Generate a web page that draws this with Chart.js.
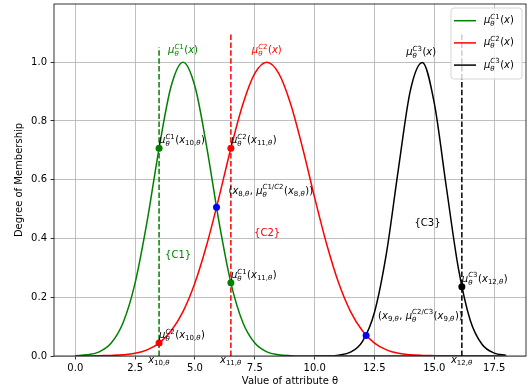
<!DOCTYPE html>
<html>
<head>
<meta charset="utf-8">
<script src="https://cdn.jsdelivr.net/npm/chart.js@4.4.1/dist/chart.umd.min.js"></script>
<style>
  html, body { margin: 0; padding: 0; background: #fff; }
  canvas { display: block; }
</style>
</head>
<body>
<canvas id="chart" width="530" height="391"></canvas>
<script>
// x values of the sampled curves (0 .. 18, step 0.5)
const xGrid = [0, 0.5, 1, 1.5, 2, 2.5, 3, 3.5, 4, 4.5, 5, 5.5, 6, 6.5, 7, 7.5, 8, 8.5, 9, 9.5,
  10, 10.5, 11, 11.5, 12, 12.5, 13, 13.5, 14, 14.5, 15, 15.5, 16, 16.5, 17, 17.5, 18];

// membership curves
const c1Values = [0.001, 0.004, 0.014, 0.044, 0.114, 0.249, 0.458, 0.707, 0.917, 1.000,
  0.917, 0.707, 0.458, 0.249, 0.114, 0.044, 0.014, 0.004, 0.001, 0,
  0, 0, 0, 0, 0, 0, 0, 0, 0, 0, 0, 0, 0, 0, 0, 0, 0];
const c2Values = [0, 0, 0.001, 0.002, 0.004, 0.009, 0.021, 0.044, 0.085, 0.151,
  0.249, 0.381, 0.539, 0.707, 0.857, 0.962, 1.000, 0.962, 0.857, 0.707,
  0.539, 0.381, 0.249, 0.151, 0.085, 0.044, 0.021, 0.009, 0.004, 0.002,
  0.001, 0, 0, 0, 0, 0, 0];
const c3Values = [null, null, null, null, null, null, null, null, null, null,
  null, null, null, null, null, null, null, null, null, null,
  0, 0, 0.003, 0.013, 0.050, 0.149, 0.350, 0.637, 0.904, 0.999,
  0.860, 0.576, 0.301, 0.122, 0.039, 0.010, 0.002];

// cut points x10, x11, x12 and the memberships marked on them
const cutNames = ['x_{10,θ}', 'x_{11,θ}', 'x_{12,θ}'];
const cutX = [3.5, 6.5, 16.15];
const cutTop = [1.05, 1.1, 1.1];
const c1AtCut = [0.707, 0.249];
const c2AtCut = [0.044, 0.707];
const c3AtCut = [0.236];

// crossing points x8 (C1/C2) and x9 (C2/C3)
const crossX = [5.9, 12.15];
const crossY = [0.506, 0.070];

const seriesNames = ['μ_θ^{C1}(x)', 'μ_θ^{C2}(x)', 'μ_θ^{C3}(x)'];
const clusterNames = ['{C1}', '{C2}', '{C3}'];
const xTicks = [0, 2.5, 5, 7.5, 10, 12.5, 15, 17.5];
const yTicks = [0, 0.2, 0.4, 0.6, 0.8, 1.0];

const GREEN = '#008000';
const RED = '#ff0000';
const BLACK = '#000000';
const BLUE = '#0000ff';
const FONT = '"DejaVu Sans", sans-serif';

Chart.defaults.font.family = FONT;
Chart.defaults.font.size = 10;
Chart.defaults.color = '#000';

// --- tiny mathtext: x_{..} and ^{..}, letters italic ---
function parseMath(src) {
  const items = [];
  let i = 0;
  while (i < src.length) {
    const c = src[i];
    if (c === '_' || c === '^') {
      i++;
      let g;
      if (src[i] === '{') {
        const j = src.indexOf('}', i);
        g = src.slice(i + 1, j);
        i = j + 1;
      } else {
        g = src[i];
        i++;
      }
      let last = items[items.length - 1];
      if (!last || !last.script) {
        last = { script: true, sub: '', sup: '' };
        items.push(last);
      }
      if (c === '_') last.sub = g; else last.sup = g;
    } else {
      items.push({ text: c });
      i++;
    }
  }
  return items;
}

function glyphFont(ch, size) {
  const italic = /[A-Za-z\u0391-\u03c9\u00b5]/.test(ch);
  return (italic ? 'italic ' : '') + size + 'px ' + FONT;
}

function runWidth(ctx, s, size) {
  let w = 0;
  for (const ch of s) {
    ctx.font = glyphFont(ch, size);
    w += ctx.measureText(ch).width;
  }
  return w;
}

function drawRun(ctx, s, x, y, size) {
  for (const ch of s) {
    ctx.font = glyphFont(ch, size);
    ctx.fillText(ch, x, y);
    x += ctx.measureText(ch).width;
  }
  return x;
}

function mathWidth(ctx, items, size) {
  let w = 0;
  for (const it of items) {
    if (it.script) w += Math.max(runWidth(ctx, it.sub, size * 0.7), runWidth(ctx, it.sup, size * 0.7)) + 0.5;
    else w += runWidth(ctx, it.text, size);
  }
  return w;
}

function drawMath(ctx, src, x, y, color, align) {
  const size = 10;
  const items = parseMath(src);
  if (align === 'center') x -= mathWidth(ctx, items, size) / 2;
  ctx.fillStyle = color;
  ctx.textAlign = 'left';
  ctx.textBaseline = 'alphabetic';
  for (const it of items) {
    if (it.script) {
      const s = size * 0.7;
      const both = it.sub && it.sup;
      const e1 = it.sup ? drawRun(ctx, it.sup, x, y - size * 0.42, s) : x;
      const e2 = it.sub ? drawRun(ctx, it.sub, x, y + size * (both ? 0.3 : 0.22), s) : x;
      x = Math.max(e1, e2) + 0.5;
    } else {
      x = drawRun(ctx, it.text, x, y, size);
    }
  }
}

// texts placed in data coordinates (dy in pixels, to sit on top of a marker)
const notes = [
  { text: seriesNames[0], x: 4.5, y: 1.03, align: 'center', color: GREEN },
  { text: seriesNames[1], x: 8, y: 1.03, align: 'center', color: RED },
  { text: seriesNames[2], x: 14.45, y: 1.025, align: 'center', color: BLACK },
  { text: 'μ_θ^{C1}(' + cutNames[0] + ')', x: cutX[0], y: c1AtCut[0], dy: -5 },
  { text: 'μ_θ^{C2}(' + cutNames[0] + ')', x: cutX[0], y: c2AtCut[0], dy: -5 },
  { text: 'μ_θ^{C1}(' + cutNames[1] + ')', x: cutX[1], y: c1AtCut[1], dy: -5 },
  { text: 'μ_θ^{C2}(' + cutNames[1] + ')', x: cutX[1], y: c2AtCut[1], dy: -5 },
  { text: 'μ_θ^{C3}(' + cutNames[2] + ')', x: cutX[2], y: c3AtCut[0], dy: -5 },
  { text: '(x_{8,θ}, μ_θ^{C1/C2}(x_{8,θ}))', x: crossX[0] + 0.5, y: crossY[0] + 0.03, dy: -5 },
  { text: '(x_{9,θ}, μ_θ^{C2/C3}(x_{9,θ}))', x: crossX[1] + 0.5, y: crossY[1] + 0.04, dy: -5 },
  { text: clusterNames[0], plain: true, x: 3.75, y: 0.332, color: GREEN },
  { text: clusterNames[1], plain: true, x: 7.47, y: 0.408, color: RED },
  { text: clusterNames[2], plain: true, x: 14.17, y: 0.442, color: BLACK },
  { text: cutNames[0], x: cutX[0], y: 0, dy: 6.5, align: 'center' },
  { text: cutNames[1], x: cutX[1], y: 0, dy: 6.5, align: 'center' },
  { text: cutNames[2], x: cutX[2], y: 0, dy: 6.5, align: 'center' },
];

const decor = {
  id: 'decor',
  afterDatasetsDraw(chart) {
    const { ctx, chartArea: a, scales: { x, y } } = chart;
    ctx.save();

    // axes frame
    ctx.strokeStyle = '#000';
    ctx.lineWidth = 0.8;
    ctx.strokeRect(a.left, a.top, a.right - a.left, a.bottom - a.top);

    notes.forEach(n => {
      const px = x.getPixelForValue(n.x) + (n.dx || 0);
      const py = y.getPixelForValue(n.y) + (n.dy || 0);
      const color = n.color || '#000';
      if (n.plain) {
        ctx.font = '10px ' + FONT;
        ctx.fillStyle = color;
        ctx.textAlign = 'left';
        ctx.textBaseline = 'alphabetic';
        ctx.fillText(n.text, px, py);
      } else {
        drawMath(ctx, n.text, px, py, color, n.align);
      }
    });

    // legend, upper right
    const colors = [GREEN, RED, BLACK];
    const w = 71, h = 71;
    const x0 = a.right - 4 - w, y0 = a.top + 4;
    ctx.beginPath();
    ctx.roundRect(x0, y0, w, h, 3);
    ctx.fillStyle = 'rgba(255,255,255,0.8)';
    ctx.fill();
    ctx.strokeStyle = 'rgba(204,204,204,0.8)';
    ctx.lineWidth = 1;
    ctx.stroke();
    seriesNames.forEach((name, i) => {
      const ly = y0 + 12.7 + i * 22.2;
      ctx.beginPath();
      ctx.moveTo(x0 + 3, ly);
      ctx.lineTo(x0 + 25, ly);
      ctx.strokeStyle = colors[i];
      ctx.lineWidth = 1.5;
      ctx.setLineDash([]);
      ctx.stroke();
      drawMath(ctx, name, x0 + 33, ly + 2.5, '#000', 'left');
    });

    ctx.restore();
  }
};

const curve = (vals, color) => ({
  data: xGrid.map((x, i) => ({ x, y: vals[i] })),
  borderColor: color,
  borderWidth: 1.5,
  pointRadius: 0,
  cubicInterpolationMode: 'monotone',
  fill: false,
  spanGaps: false,
});

const vline = (x, top, color) => ({
  data: [{ x, y: 0 }, { x, y: top }],
  borderColor: color,
  borderWidth: 1.5,
  borderDash: [5.5, 2.4],
  pointRadius: 0,
  fill: false,
});

const dots = (pts, color) => ({
  data: pts,
  showLine: false,
  pointRadius: 3.5,
  pointBackgroundColor: color,
  pointBorderWidth: 0,
  borderColor: color,
});

const gridOpts = {
  color: '#b0b0b0',
  lineWidth: 0.8,
  tickLength: 3.5,
  tickColor: '#000',
  tickWidth: 0.8,
};

// keep the plot box fixed: no extra room for overhanging end labels
const noOverhang = s => {
  s.paddingTop = 0;
  s.paddingBottom = 0;
  s.paddingLeft = 0;
  s.paddingRight = 0;
};

new Chart(document.getElementById('chart'), {
  type: 'line',
  data: {
    // first dataset is drawn on top
    datasets: [
      dots(crossX.map((x, i) => ({ x, y: crossY[i] })), BLUE),
      dots([{ x: cutX[0], y: c1AtCut[0] }, { x: cutX[1], y: c1AtCut[1] }], GREEN),
      dots([{ x: cutX[0], y: c2AtCut[0] }, { x: cutX[1], y: c2AtCut[1] }], RED),
      dots([{ x: cutX[2], y: c3AtCut[0] }], BLACK),
      vline(cutX[0], cutTop[0], GREEN),
      vline(cutX[1], cutTop[1], RED),
      vline(cutX[2], cutTop[2], BLACK),
      curve(c2Values, RED),
      curve(c1Values, GREEN),
      curve(c3Values, BLACK),
    ]
  },
  options: {
    responsive: false,
    devicePixelRatio: 1,
    animation: false,
    layout: { padding: { top: 4, right: 3, left: 0, bottom: 0 } },
    plugins: { legend: { display: false }, tooltip: { enabled: false } },
    scales: {
      x: {
        type: 'linear',
        min: -0.89,
        max: 18.83,
        afterBuildTicks: s => { s.ticks = xTicks.map(v => ({ value: v })); },
        afterFit: s => { s.height = 35; noOverhang(s); },
        ticks: { callback: v => v.toFixed(1), padding: 3, maxRotation: 0, autoSkip: false },
        grid: gridOpts,
        border: { display: false },
        title: { display: true, text: 'Value of attribute θ', padding: { top: 0, bottom: 3.5 } },
      },
      y: {
        type: 'linear',
        min: 0,
        max: 1.198,
        afterBuildTicks: s => { s.ticks = yTicks.map(v => ({ value: v })); },
        afterFit: s => { s.width = 54; noOverhang(s); },
        ticks: { callback: v => v.toFixed(1), padding: 3.5 },
        grid: gridOpts,
        border: { display: false },
        title: { display: true, text: 'Degree of Membership', padding: { top: 13, bottom: 0 } },
      }
    }
  },
  plugins: [decor]
});
</script>
</body>
</html>
